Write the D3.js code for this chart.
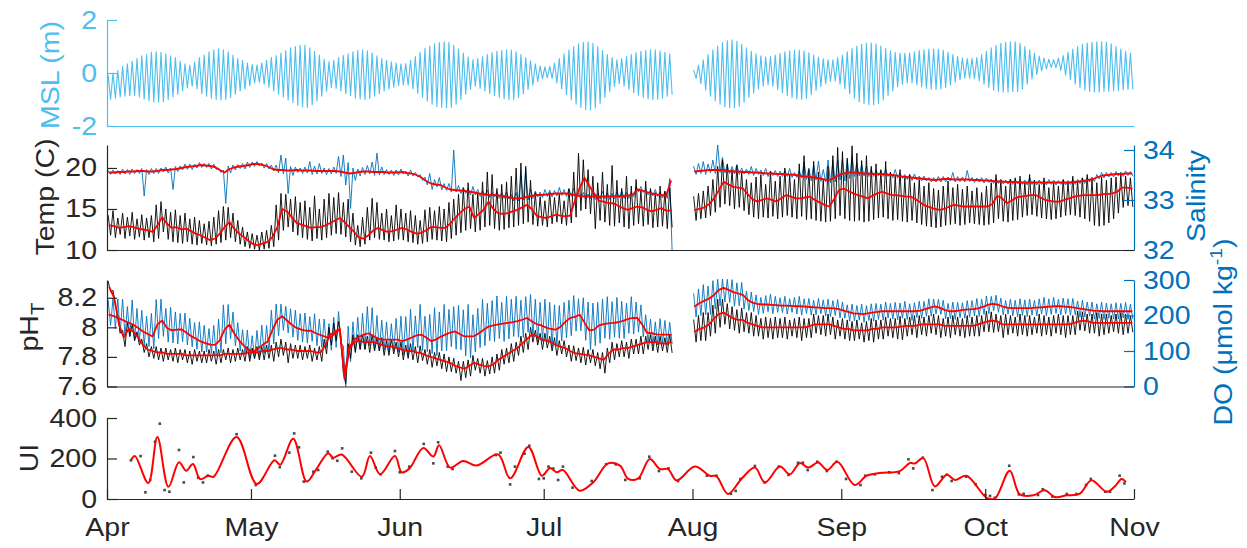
<!DOCTYPE html>
<html>
<head>
<meta charset="utf-8">
<script src="https://cdn.jsdelivr.net/npm/d3@7"></script>
<style>
html, body { margin: 0; padding: 0; background: #fff; }
svg { display: block; font-family: "Liberation Sans", Arial, Helvetica, sans-serif; }
</style>
</head>
<body>
<svg id="chart" width="1247" height="548"></svg>
<script>
// ---------------- data (one value per day, day 0 = 1 April; null = no record) ----------------
const monthLabels = ["Apr", "May", "Jun", "Jul", "Aug", "Sep", "Oct", "Nov"];
const monthStartDays = [0, 30, 61, 91, 122, 153, 183, 214];

const mslTicks = [-2, 0, 2];
const tempTicks = [10, 15, 20];
const salTicks = [32, 33, 34];
const phTicks = [7.6, 7.8, 8, 8.2];
const doTicks = [0, 100, 200, 300];
const uiTicks = [0, 200, 400];

// daily high / low water (m)
const tideHigh = [
-0.1,0.0,0.1,0.25,0.35,0.45,0.55,0.65,0.7,0.78,
0.8,0.78,0.72,0.65,0.58,0.45,0.35,0.3,0.42,0.58,
0.68,0.8,0.88,0.92,0.88,0.8,0.68,0.55,0.48,0.38,
0.32,0.3,0.38,0.48,0.58,0.66,0.75,0.85,0.95,1.0,
1.05,1.05,0.95,0.82,0.68,0.52,0.42,0.48,0.58,0.66,
0.72,0.8,0.86,0.88,0.84,0.75,0.65,0.55,0.48,0.42,
0.38,0.35,0.36,0.48,0.62,0.78,0.92,1.02,1.1,1.15,
1.18,1.16,1.05,0.9,0.75,0.6,0.5,0.55,0.62,0.7,
0.76,0.82,0.86,0.88,0.87,0.8,0.7,0.58,0.46,0.35,
0.26,0.23,0.25,0.38,0.55,0.72,0.88,1.0,1.1,1.16,
1.18,1.12,1.0,0.85,0.7,0.58,0.5,0.55,0.62,0.7,
0.76,0.82,0.86,0.88,0.88,0.84,0.78,0.72,null,null,
null,null,0.1,0.3,0.5,0.7,0.88,1.02,1.15,1.22,
1.25,1.2,1.08,0.95,0.82,0.72,0.65,0.6,0.62,0.68,
0.74,0.8,0.84,0.86,0.87,0.84,0.76,0.68,0.6,0.54,
0.5,0.5,0.58,0.68,0.8,0.92,1.02,1.08,1.12,1.13,
1.1,1.02,0.92,0.84,0.78,0.75,0.74,0.75,0.8,0.85,
0.88,0.9,0.9,0.9,0.86,0.78,0.7,0.62,0.56,0.54,
0.55,0.58,0.7,0.82,0.95,1.05,1.12,1.16,1.18,1.18,
1.12,1.0,0.88,0.75,0.64,0.56,0.52,0.5,0.56,0.66,
0.78,0.9,1.0,1.08,1.13,1.16,1.18,1.18,1.16,1.1,
1.0,0.9,0.82,0.75];
const tideLow = [
-1.0,-0.95,-0.9,-0.88,-0.86,-0.85,-0.9,-0.98,-1.05,-1.08,
-1.1,-1.08,-1.0,-0.9,-0.8,-0.68,-0.56,-0.5,-0.6,-0.78,
-0.88,-0.95,-1.0,-1.02,-1.0,-0.92,-0.8,-0.68,-0.6,-0.48,
-0.38,-0.35,-0.42,-0.55,-0.68,-0.8,-0.9,-1.02,-1.12,-1.22,
-1.28,-1.3,-1.2,-1.05,-0.88,-0.7,-0.55,-0.58,-0.68,-0.78,
-0.86,-0.94,-0.98,-1.0,-0.96,-0.88,-0.78,-0.68,-0.6,-0.54,
-0.48,-0.45,-0.46,-0.6,-0.76,-0.92,-1.06,-1.18,-1.26,-1.3,
-1.32,-1.3,-1.18,-1.0,-0.8,-0.62,-0.5,-0.58,-0.68,-0.78,
-0.86,-0.92,-0.97,-1.0,-1.0,-0.92,-0.78,-0.62,-0.46,-0.32,
-0.22,-0.18,-0.2,-0.38,-0.6,-0.82,-1.02,-1.18,-1.3,-1.38,
-1.4,-1.32,-1.15,-0.92,-0.7,-0.52,-0.4,-0.5,-0.62,-0.74,
-0.84,-0.92,-0.97,-1.0,-1.0,-0.95,-0.88,-0.8,null,null,
null,null,-0.2,-0.4,-0.65,-0.88,-1.05,-1.18,-1.27,-1.31,
-1.32,-1.25,-1.1,-0.92,-0.75,-0.6,-0.5,-0.45,-0.5,-0.62,
-0.74,-0.85,-0.93,-0.98,-1.0,-0.95,-0.82,-0.66,-0.52,-0.4,
-0.32,-0.3,-0.42,-0.6,-0.78,-0.95,-1.08,-1.16,-1.2,-1.2,
-1.15,-1.02,-0.85,-0.68,-0.52,-0.42,-0.38,-0.38,-0.45,-0.52,
-0.58,-0.62,-0.62,-0.6,-0.55,-0.45,-0.35,-0.26,-0.2,-0.2,
-0.22,-0.3,-0.42,-0.55,-0.65,-0.7,-0.72,-0.72,-0.7,-0.7,
-0.6,-0.42,-0.22,-0.05,0.08,0.16,0.2,0.2,0.1,-0.08,
-0.25,-0.42,-0.55,-0.64,-0.7,-0.72,-0.72,-0.7,-0.7,-0.68,
-0.66,-0.64,-0.62,-0.6];

// temperature (C): smoothed daily value, daily maximum, daily minimum
const tempMean = [
13.0,12.9,12.7,12.8,12.9,12.8,12.6,12.5,12.4,12.2,
13.0,14.0,13.2,12.7,12.8,12.5,12.6,12.3,12.0,11.8,
11.5,11.2,11.4,12.0,12.8,13.4,12.6,12.0,11.6,11.1,
10.7,10.6,10.8,11.0,11.6,12.8,15.0,14.7,14.0,13.3,
13.1,12.9,12.7,12.8,12.8,13.0,13.3,13.6,13.9,13.4,
12.8,12.2,11.5,11.4,11.8,12.4,12.7,12.4,12.2,12.3,
12.5,12.7,12.5,12.2,12.0,12.1,12.4,12.8,12.8,12.7,
12.7,13.2,13.9,14.5,15.0,15.3,13.9,14.4,14.9,15.9,
15.0,14.5,14.4,14.5,14.7,14.9,15.2,15.5,15.0,14.2,
14.0,13.9,14.1,14.3,14.2,14.1,14.2,16.0,17.6,18.8,
17.8,16.9,16.0,15.9,15.7,15.7,15.4,15.1,14.9,15.1,
15.3,15.2,14.9,14.7,14.9,15.1,14.8,14.8,null,null,
null,null,14.9,15.0,15.2,15.6,16.3,17.3,18.3,18.0,
17.7,17.6,17.5,16.8,16.2,15.9,16.1,16.3,16.1,15.9,
16.3,16.7,16.5,16.3,16.3,16.4,16.5,16.1,15.8,15.5,
15.3,16.2,17.3,17.5,17.2,16.9,16.7,16.5,16.3,16.6,
16.9,17.1,16.9,16.7,16.7,16.6,16.5,16.5,16.2,15.8,
15.4,15.2,15.0,14.9,15.0,15.3,15.5,15.4,15.3,15.3,
15.3,15.3,15.3,15.3,15.6,16.6,16.3,15.7,16.0,16.4,
16.5,16.6,16.7,16.7,16.4,16.1,16.0,15.9,15.9,16.1,
16.3,16.5,16.6,16.7,16.7,16.7,16.7,16.8,16.8,16.9,
17.1,17.6,17.6,17.5];
const tempMax = [
14.2,14.8,13.9,14.5,14.0,14.6,13.8,14.3,13.9,14.2,
15.5,15.9,15.0,14.6,14.9,14.2,14.5,13.8,14.0,13.6,
13.2,13.5,14.0,14.8,15.3,15.2,14.5,13.6,12.8,12.2,
12.0,11.8,12.2,12.4,13.0,15.5,16.9,16.8,16.2,16.5,
15.8,16.0,15.2,16.6,15.0,16.2,16.9,16.4,17.0,15.8,
16.2,14.5,13.0,14.0,15.2,16.3,15.8,14.5,15.0,14.2,
15.5,15.0,14.5,14.8,14.2,13.6,14.9,15.2,14.8,15.3,
15.0,15.8,16.2,16.8,17.5,18.2,16.8,17.0,18.3,19.5,
19.2,17.5,18.0,18.3,19.0,20.0,20.6,20.2,18.5,17.0,
16.5,16.0,17.0,16.4,16.8,16.0,17.5,19.5,21.8,21.0,
19.8,19.0,18.2,19.5,18.0,20.3,18.5,17.5,19.0,17.8,
18.6,17.2,18.4,17.5,17.0,17.8,17.2,17.6,null,null,
null,null,16.5,16.9,17.2,17.8,18.6,20.2,21.0,20.5,
19.8,20.3,19.5,18.6,18.2,18.9,19.2,18.0,19.6,18.4,
19.0,20.0,19.2,18.6,20.5,21.5,19.8,20.8,19.5,18.5,
20.2,21.5,22.5,22.0,21.2,22.7,21.8,20.9,21.5,20.2,
20.5,19.8,20.8,19.5,19.0,19.8,18.8,19.2,18.2,18.6,
17.8,18.2,17.5,17.3,17.8,18.4,17.6,18.0,17.4,17.8,
17.2,17.6,17.0,17.8,18.2,19.2,18.5,17.8,18.6,18.8,
19.0,18.2,19.2,18.5,18.0,18.8,17.6,18.2,17.8,18.6,
18.2,19.0,18.4,18.8,19.2,18.6,18.2,18.9,18.5,18.8,
18.9,19.2,19.0,18.8];
const tempMin = [
11.8,11.5,11.9,11.4,11.7,11.3,11.6,11.2,11.5,11.0,
11.4,12.2,11.3,11.0,10.9,10.8,11.0,10.7,10.6,10.8,
10.6,10.5,10.7,10.9,11.2,11.5,11.0,10.7,10.4,10.2,
10.1,10.0,10.1,10.2,10.4,11.2,12.4,12.8,12.2,11.8,
11.5,11.3,11.1,11.4,11.2,11.5,11.8,12.0,11.9,11.6,
11.0,10.6,10.4,10.7,11.2,11.5,11.3,11.2,11.0,11.1,
11.3,11.2,11.0,10.9,10.7,10.8,11.0,11.3,11.2,11.1,
11.0,11.4,11.8,12.1,12.4,12.6,12.2,12.4,12.8,13.0,
12.6,12.4,12.5,12.7,12.8,13.0,13.2,13.4,13.1,12.9,
13.0,12.8,13.2,13.4,13.2,13.0,13.3,14.0,14.8,15.0,
14.4,12.6,13.6,13.4,13.0,12.9,13.3,12.8,12.6,13.0,
13.2,12.9,13.1,12.7,12.8,12.9,12.6,12.8,null,null,
null,null,13.6,13.8,13.9,14.2,14.6,15.2,15.6,15.4,
15.0,15.2,14.8,14.3,14.0,13.8,14.0,13.9,14.1,13.8,
14.0,14.2,14.0,13.8,14.1,13.7,13.8,13.6,13.5,13.4,
13.5,13.8,14.2,13.8,13.6,13.5,13.6,13.4,13.5,13.7,
13.9,14.0,13.8,13.6,13.7,13.5,13.4,13.6,13.3,13.1,
12.9,12.8,12.7,12.8,13.0,13.1,13.2,13.0,13.1,13.3,
13.2,13.1,13.0,13.1,13.3,13.8,13.5,13.4,13.6,13.7,
14.0,14.2,14.3,14.1,13.9,13.8,13.7,13.8,14.0,14.2,
14.3,14.2,14.0,13.8,13.5,13.0,12.9,13.0,13.3,13.8,
14.5,15.2,15.4,15.3];

// salinity: smoothed daily value, and daily excursion above / below it
const salMean = [
33.55,33.55,33.56,33.56,33.57,33.57,33.58,33.58,33.57,33.57,
33.58,33.6,33.6,33.61,33.62,33.64,33.66,33.67,33.68,33.7,
33.69,33.68,33.66,33.6,33.55,33.62,33.65,33.67,33.68,33.7,
33.72,33.72,33.7,33.67,33.62,33.6,33.6,33.59,33.59,33.6,
33.59,33.59,33.59,33.58,33.58,33.58,33.58,33.58,33.57,33.55,
33.53,33.54,33.56,33.57,33.57,33.56,33.56,33.56,33.55,33.55,
33.55,33.56,33.54,33.53,33.5,33.45,33.38,33.33,33.31,33.3,
33.25,33.21,33.2,33.19,33.18,33.17,33.15,33.13,33.12,33.1,
33.1,33.09,33.08,33.06,33.04,33.03,33.04,33.06,33.08,33.1,
33.1,33.11,33.12,33.13,33.13,33.13,33.12,33.1,33.08,33.07,
33.07,33.07,33.07,33.07,33.07,33.07,33.08,33.08,33.09,33.1,
33.21,33.19,33.16,33.13,33.11,33.1,33.08,33.38,null,null,
null,null,33.57,33.58,33.59,33.6,33.6,33.6,33.6,33.58,
33.57,33.57,33.56,33.56,33.55,33.55,33.54,33.53,33.53,33.52,
33.52,33.51,33.51,33.5,33.48,33.47,33.46,33.45,33.43,33.41,
33.4,33.44,33.5,33.53,33.55,33.55,33.54,33.53,33.53,33.52,
33.52,33.52,33.51,33.5,33.49,33.47,33.46,33.45,33.44,33.43,
33.42,33.41,33.4,33.41,33.42,33.42,33.41,33.41,33.41,33.41,
33.4,33.4,33.39,33.39,33.38,33.37,33.37,33.36,33.36,33.36,
33.35,33.35,33.35,33.35,33.35,33.35,33.35,33.35,33.35,33.35,
33.35,33.36,33.37,33.38,33.4,33.42,33.46,33.49,33.5,33.51,
33.52,33.52,33.53,33.53];
const salAbove = [
.04,.05,.03,.06,.04,.05,.03,.05,.04,.06,
.05,.04,.06,.03,.05,.04,.06,.05,.04,.05,
.04,.05,.06,.04,.05,.06,.05,.04,.05,.06,
.04,.05,.04,.06,.08,.10,.30,.25,.08,.06,
.05,.07,.18,.10,.15,.06,.05,.08,.30,.35,
.22,.10,.06,.08,.12,.20,.38,.10,.06,.05,
.05,.06,.04,.07,.05,.06,.08,.20,.10,.15,
.08,.12,.80,.10,.08,.06,.12,.08,.06,.10,
.05,.08,.06,.10,.07,.12,.45,.55,.15,.08,
.06,.10,.08,.06,.12,.08,.10,.14,.06,.08,
.05,.08,.06,.10,.07,.06,.08,.10,.06,.05,
.06,.08,.05,.07,.10,.06,.08,.05,null,null,
null,null,.10,.15,.18,.12,.20,.50,.25,.12,
.10,.14,.08,.06,.12,.08,.06,.10,.05,.07,
.06,.08,.12,.05,.10,.30,.18,.25,.35,.20,
.40,.35,.30,.28,.25,.32,.20,.18,.15,.10,
.08,.06,.10,.05,.12,.07,.05,.06,.08,.05,
.06,.04,.05,.06,.05,.04,.14,.06,.05,.18,
.05,.04,.06,.05,.04,.06,.05,.04,.06,.05,
.04,.05,.10,.04,.05,.04,.06,.05,.04,.05,
.04,.05,.04,.06,.05,.04,.05,.06,.05,.04,
.05,.04,.05,.04];
const salBelow = [
.04,.03,.05,.04,.06,.04,.05,.50,.06,.04,
.05,.04,.06,.40,.05,.04,.05,.06,.04,.05,
.04,.06,.05,.05,.62,.08,.05,.04,.06,.05,
.05,.04,.06,.05,.04,.06,.08,.46,.10,.05,
.06,.05,.08,.06,.05,.07,.06,.05,.10,.25,
.70,.15,.08,.06,.05,.07,.06,.05,.04,.06,
.05,.04,.06,.05,.04,.06,.08,.12,.05,.10,
.06,.05,.04,.06,.05,.07,.05,.06,.04,.05,
.04,.06,.05,.04,.06,.05,.04,.06,.05,.04,
.05,.04,.06,.05,.04,.06,.05,.04,.06,.05,
.04,.06,.05,.04,.06,.05,.04,.05,.06,.04,
.05,.04,.06,.05,.04,.06,.05,1.38,null,null,
null,null,.06,.05,.08,.06,.07,.05,.06,.05,
.05,.06,.04,.05,.06,.04,.05,.06,.04,.05,
.05,.04,.06,.05,.04,.06,.08,.05,.06,.05,
.06,.08,.10,.15,.12,.08,.06,.05,.06,.05,
.04,.05,.04,.06,.05,.04,.05,.06,.04,.05,
.04,.05,.04,.05,.06,.04,.05,.04,.05,.04,
.05,.04,.05,.04,.05,.04,.05,.04,.05,.04,
.04,.05,.04,.05,.04,.05,.04,.05,.04,.05,
.04,.05,.04,.05,.04,.05,.04,.05,.04,.05,
.04,.05,.04,.05];

// pH (total scale): smoothed daily value, and daily excursion above / below it
const phMean = [
8.27,8.2,8.02,7.93,7.99,7.97,7.93,7.88,7.85,7.84,
7.83,7.83,7.82,7.82,7.82,7.82,7.81,7.81,7.81,7.81,
7.81,7.81,7.81,7.81,7.82,7.82,7.82,7.82,7.82,7.83,
7.83,7.83,7.84,7.84,7.85,7.86,7.86,7.85,7.85,7.84,
7.84,7.84,7.84,7.83,7.83,7.88,7.95,7.97,7.99,7.65,
7.85,7.9,7.91,7.9,7.9,7.9,7.89,7.88,7.87,7.87,
7.86,7.85,7.84,7.84,7.83,7.825,7.81,7.8,7.79,7.78,
7.77,7.76,7.74,7.73,7.72,7.74,7.76,7.75,7.74,7.735,
7.75,7.78,7.8,7.82,7.84,7.86,7.89,7.92,7.95,7.94,
7.92,7.91,7.9,7.88,7.87,7.86,7.84,7.825,7.82,7.815,
7.81,7.8,7.79,7.78,7.82,7.85,7.85,7.86,7.86,7.87,
7.88,7.89,7.9,7.9,7.9,7.89,7.89,7.9,null,null,
null,null,7.97,7.99,8.0,8.02,8.06,8.09,8.1,8.08,
8.06,8.05,8.05,8.03,8.02,8.01,8.0,8.0,8.0,8.0,
8.0,8.0,8.0,8.0,8.0,8.0,8.01,8.02,8.02,8.02,
8.02,8.01,8.0,7.99,7.99,7.98,7.98,7.98,7.98,7.99,
7.99,8.0,8.0,8.0,8.0,8.005,8.01,8.01,8.01,8.02,
8.02,8.02,8.02,8.02,8.01,8.01,8.01,8.01,8.01,8.01,
8.01,8.02,8.03,8.04,8.045,8.04,8.02,8.02,8.02,8.02,
8.02,8.02,8.02,8.02,8.02,8.02,8.02,8.02,8.02,8.02,
8.02,8.03,8.04,8.045,8.04,8.03,8.03,8.03,8.03,8.03,
8.03,8.03,8.03,8.03];
const phAbove = [
.04,.05,.06,.05,.04,.05,.04,.04,.04,.03,
.04,.03,.04,.03,.04,.03,.04,.03,.04,.03,
.03,.04,.03,.04,.03,.04,.03,.04,.03,.04,
.03,.04,.03,.04,.03,.04,.06,.05,.04,.04,
.04,.03,.04,.03,.04,.04,.05,.06,.05,.04,
.04,.05,.04,.05,.04,.05,.04,.05,.04,.05,
.04,.05,.04,.05,.04,.05,.04,.05,.04,.05,
.05,.04,.05,.04,.05,.04,.05,.04,.05,.04,
.05,.04,.05,.04,.05,.04,.05,.04,.05,.04,
.04,.05,.04,.05,.04,.05,.04,.05,.04,.05,
.04,.05,.04,.05,.04,.05,.04,.05,.04,.05,
.04,.05,.04,.05,.04,.05,.04,.05,null,null,
null,null,.08,.09,.10,.08,.09,.10,.09,.08,
.08,.07,.08,.07,.08,.07,.06,.07,.06,.07,
.06,.07,.05,.06,.07,.06,.05,.07,.06,.06,
.07,.06,.05,.07,.06,.06,.07,.05,.06,.07,
.06,.05,.07,.06,.06,.07,.05,.06,.07,.06,
.05,.06,.07,.06,.05,.06,.07,.06,.05,.07,
.06,.06,.05,.07,.06,.05,.06,.07,.06,.05,
.07,.06,.06,.05,.07,.06,.05,.06,.07,.06,
.06,.05,.07,.06,.05,.06,.07,.06,.06,.05,
.06,.07,.06,.05];
const phBelow = [
.03,.05,.06,.06,.05,.06,.05,.05,.05,.05,
.05,.06,.04,.05,.06,.04,.05,.06,.04,.05,
.05,.04,.06,.05,.04,.06,.05,.04,.05,.06,
.04,.05,.06,.05,.08,.06,.05,.09,.06,.05,
.06,.05,.07,.05,.06,.06,.07,.06,.06,.03,
.06,.07,.06,.05,.07,.06,.05,.07,.06,.05,
.06,.07,.05,.06,.07,.05,.06,.07,.05,.06,
.07,.06,.05,.09,.06,.07,.05,.06,.07,.05,
.06,.07,.05,.06,.07,.05,.06,.07,.05,.06,
.07,.05,.06,.07,.05,.06,.07,.05,.06,.07,
.05,.06,.07,.09,.06,.07,.05,.06,.07,.05,
.06,.07,.05,.06,.07,.05,.06,.07,null,null,
null,null,.07,.08,.09,.08,.10,.09,.08,.09,
.08,.09,.08,.07,.08,.07,.08,.07,.08,.07,
.07,.08,.06,.07,.09,.07,.08,.06,.07,.08,
.07,.09,.06,.07,.08,.07,.06,.08,.07,.09,
.07,.08,.06,.07,.08,.09,.07,.06,.08,.07,
.08,.06,.07,.09,.07,.08,.06,.07,.08,.07,
.07,.08,.06,.07,.08,.07,.09,.07,.06,.08,
.07,.08,.07,.06,.08,.07,.08,.06,.07,.09,
.07,.08,.06,.07,.08,.07,.09,.08,.07,.06,
.07,.08,.07,.06];

// dissolved oxygen (umol/kg): smoothed daily value, and daily excursion above / below it
const doMean = [
202,198,192,186,180,174,165,155,148,141,
175,186,165,158,160,161,152,142,135,127,
122,118,117,130,160,174,150,130,115,104,
98,108,118,127,160,188,198,186,174,165,
160,157,157,150,145,140,137,150,161,35,
110,132,140,146,150,142,135,132,132,132,
132,128,132,138,144,146,138,128,132,140,
146,152,155,148,141,141,142,150,160,169,
172,175,177,179,181,184,188,193,184,176,
172,166,162,160,168,182,193,196,202,180,
158,160,172,176,178,179,181,185,190,193,
193,175,152,150,147,146,146,146,null,null,
null,null,226,235,242,248,258,272,278,272,
266,262,258,244,236,233,231,231,230,229,
228,228,227,226,226,225,224,223,222,221,
221,220,218,214,210,206,205,204,206,208,
210,212,212,212,212,212,212,212,212,214,
218,222,226,222,216,212,212,214,216,217,
218,220,224,230,233,231,226,222,221,221,
221,221,221,222,223,224,225,226,226,225,
224,222,220,218,216,214,213,212,212,212,
212,212,212,212];
const doAbove = [
40,50,55,60,45,70,55,60,50,65,
70,60,55,65,50,45,55,50,45,55,
50,45,55,60,70,57,60,50,45,55,
45,50,55,45,55,44,34,40,45,50,
45,50,40,55,45,50,40,45,50,80,
60,50,55,60,75,80,65,55,50,45,
60,70,65,80,55,85,60,75,90,70,
85,65,70,80,75,90,60,70,85,65,
70,80,60,75,65,70,55,60,75,70,
65,80,75,70,60,55,50,60,45,70,
80,75,65,70,75,60,70,55,45,60,
45,55,50,40,35,45,40,35,null,null,
null,null,35,40,45,35,40,30,25,30,
35,30,35,25,30,25,20,25,30,25,
22,26,20,25,28,22,24,20,26,23,
25,22,27,24,20,26,23,28,22,25,
24,20,26,22,25,23,28,21,24,26,
22,25,20,24,27,22,26,23,20,25,
24,28,22,25,21,26,23,20,25,22,
26,23,25,21,24,27,22,25,20,24,
23,26,21,25,22,24,20,26,23,21,
24,22,25,20];
const doBelow = [
30,35,40,45,40,45,40,40,35,35,
40,45,40,35,40,35,35,30,30,30,
25,25,30,35,40,40,35,30,25,25,
20,25,25,30,40,45,40,35,35,35,
35,35,30,35,35,30,35,40,40,35,
40,35,35,40,35,40,35,30,35,30,
35,40,45,40,35,45,40,35,45,40,
45,40,50,45,55,60,45,40,45,40,
45,40,50,45,40,45,50,40,45,50,
45,40,50,45,40,45,50,40,45,50,
55,45,50,40,45,40,45,50,40,45,
40,35,30,35,30,25,30,25,null,null,
null,null,30,35,40,45,40,45,40,35,
40,35,40,30,25,30,25,20,25,20,
20,24,18,22,25,19,23,21,17,22,
24,20,25,22,26,21,18,23,20,24,
21,25,19,22,24,20,23,26,18,22,
20,24,22,19,25,21,23,20,24,22,
19,23,21,25,20,22,24,18,22,25,
21,24,20,23,19,25,22,20,24,21,
23,20,25,22,18,24,21,23,20,22,
22,19,23,21];

// upwelling index: daily values and the smoothed curve
const uiDays = [5,7,8,9,10,11,12,13,15,16,18,19,20,21,27,31,35,36,38,39,
40,41,43,44,46,47,48,49,51,53,55,56,57,60,61,63,66,68,69,71,
72,81,82,84,85,87,88,90,91,92,93,94,95,97,101,104,106,108,111,113,
115,117,119,125,127,130,131,132,135,137,140,142,144,145,146,148,150,152,154,157,
158,160,163,165,167,168,170,172,174,175,176,179,181,183,184,185,188,190,191,194,
195,197,200,202,204,205,208,209,211,212];
const uiValues = [191,212,33,94,283,372,44,36,242,82,207,105,82,115,320,69,214,157,229,324,
255,86,135,143,234,201,189,250,135,102,229,155,122,237,132,160,272,176,280,160,
148,217,229,72,160,224,263,99,102,160,150,94,160,56,89,171,171,94,102,209,
138,151,89,115,115,26,40,99,163,82,160,119,179,179,143,184,138,184,99,69,
115,122,132,128,196,151,204,44,110,120,89,110,72,20,15,6,164,23,26,20,
48,12,25,25,69,99,36,36,115,77];
const uiSmoothDays = [5,5.8,8.6,10.5,12.8,15,16.5,17.9,19.4,21.1,22.2,27,31.2,34.9,36.1,38.8,41.6,43.3,46.1,47.1,
48.9,53.1,54.8,56.9,60,61.4,63,65.9,68,69.2,71.5,74.2,77,81.5,84,87.8,90.6,92.3,93.7,95,
98.5,101.3,104.4,106.9,108.6,110.7,113.1,115.2,116.9,118.7,122.5,125.6,127,129.4,132.2,135,137.1,140.2,142.3,144.4,
146.1,148.2,150.1,152.2,155.8,158.3,161,165.2,167.3,168.3,170.1,172.5,175,176.7,179.1,183.3,185,188.1,190.2,193,
195.4,197.5,200,202.7,205.1,208.3,210,211.4,212.3];
const uiSmooth = [191,212,79,306,60,181,140,173,98,115,110,306,74,191,169,297,86,135,226,204,
220,110,212,122,212,132,150,252,210,266,155,188,165,220,102,257,115,153,132,143,
41,82,176,165,99,102,198,148,148,92,160,115,112,25,99,155,82,160,122,178,
155,180,143,184,69,115,128,138,178,175,202,62,120,94,115,6,2,140,23,18,
43,10,18,26,92,36,62,99,84];

// ---------------- drawing ----------------
const COL_MSL = "#4DBEEE", COL_BLUE = "#0072BD", COL_AX = "#262626", COL_RED = "#FF0000";
const FS = 25, STRETCH = 1.14;

const svg = d3.select("#chart");
const x = d3.scaleLinear().domain([0, 214]).range([107, 1134]);

const yMsl  = d3.scaleLinear().domain([-2, 2]).range([126, 20]);
const yTemp = d3.scaleLinear().domain([10, 22.8]).range([250, 145]);
const ySal  = d3.scaleLinear().domain([32, 34.1]).range([250, 145]);
const yPh   = d3.scaleLinear().domain([7.6, 8.32]).range([386.5, 280]);
const yDo   = d3.scaleLinear().domain([0, 300]).range([386.5, 280]);
const yUi   = d3.scaleLinear().domain([0, 400]).range([499, 418]);

const defs = svg.append("defs");
function clipFor(id, y) {
  const r = y.range();
  defs.append("clipPath").attr("id", id).append("rect")
    .attr("x", x(0)).attr("y", Math.min(...r) - 1)
    .attr("width", x(214) - x(0)).attr("height", Math.abs(r[0] - r[1]) + 2);
  return svg.append("g").attr("clip-path", `url(#${id})`);
}

// one up-stroke and one down-stroke per day between the daily extremes
function dailySwing(hi, lo) {
  const pts = [];
  hi.forEach((h, d) => {
    if (h == null || lo[d] == null) { pts.push(null); return; }
    pts.push([d + 0.25, h], [d + 0.75, lo[d]]);
  });
  return pts;
}
function dailyPoints(v) { return v.map((m, d) => m == null ? null : [d + 0.5, m]); }
function plus(m, off) { return m.map((v, i) => v == null ? null : v + off[i]); }
function minus(m, off) { return m.map((v, i) => v == null ? null : v - off[i]); }

function path(g, pts, y, color, width) {
  const line = d3.line().defined(p => p != null).x(p => x(p[0])).y(p => y(p[1]));
  g.append("path").attr("d", line(pts)).attr("fill", "none")
    .attr("stroke", color).attr("stroke-width", width)
    .attr("stroke-linejoin", "round").attr("stroke-linecap", "round");
}

function styleAxis(g, color) {
  g.attr("font-size", FS).attr("font-family", null).attr("color", color);
  g.select(".domain").attr("stroke-width", 1.2);
  g.selectAll(".tick line").attr("stroke-width", 1.2);
  g.selectAll("text").each(function () {
    const t = d3.select(this);
    const tx = +(t.attr("x") || 0);
    t.attr("x", tx / STRETCH).attr("transform", `scale(${STRETCH},1)`);
  });
}

function leftAxis(y, ticks, color, fmt) {
  const g = svg.append("g").attr("transform", `translate(${x(0)},0)`)
    .call(d3.axisLeft(y).tickValues(ticks).tickSize(-10).tickSizeOuter(0).tickPadding(10)
      .tickFormat(fmt || (d => String(d))));
  styleAxis(g, color);
  return g;
}
function rightAxis(y, ticks, color) {
  const g = svg.append("g").attr("transform", `translate(${x(214)},0)`)
    .call(d3.axisRight(y).tickValues(ticks).tickSize(-10).tickSizeOuter(0).tickPadding(9)
      .tickFormat(d => String(d)));
  styleAxis(g, color);
  return g;
}
function baseLine(y0, color) {
  const g = svg.append("g").attr("transform", `translate(0,${y0})`)
    .call(d3.axisBottom(x).tickValues([]).tickSizeOuter(0));
  styleAxis(g, color);
}

function yLabel(parts, cx, cy, color) {
  const t = svg.append("text")
    .attr("transform", `translate(${cx},${cy}) rotate(-90) scale(${STRETCH},1)`)
    .attr("text-anchor", "middle").attr("font-size", FS).attr("fill", color);
  parts.forEach(p => {
    const s = t.append("tspan").text(p.text);
    if (p.sub) s.attr("font-size", 18).attr("dy", 6);
    if (p.sup) s.attr("font-size", 17).attr("dy", -10);
    if (p.back) s.attr("dy", p.back);
  });
}

// ---- panel 1: sea level ----
{
  const g = clipFor("clipMsl", yMsl);
  path(g, dailySwing(tideHigh, tideLow), yMsl, COL_MSL, 1.1);
  leftAxis(yMsl, mslTicks, COL_MSL);
  baseLine(126, COL_MSL);
  yLabel([{ text: "MSL (m)" }], 59, 75, COL_MSL);
}

// ---- panel 2: temperature & salinity ----
{
  const g = clipFor("clipTemp", yTemp);
  path(g, dailySwing(plus(salMean, salAbove), minus(salMean, salBelow)), ySal, COL_BLUE, 0.9);
  path(g, dailySwing(tempMax, tempMin), yTemp, "#000", 0.9);
  path(g, dailyPoints(tempMean), yTemp, COL_RED, 1.8);
  path(g, dailyPoints(salMean), ySal, COL_RED, 1.8);
  leftAxis(yTemp, tempTicks, COL_AX);
  rightAxis(ySal, salTicks, COL_BLUE);
  baseLine(250, COL_AX);
  yLabel([{ text: "Temp (C)" }], 54, 197, COL_AX);
  yLabel([{ text: "Salinity" }], 1205, 196, COL_BLUE);
}

// ---- panel 3: pH & dissolved oxygen ----
{
  const g = clipFor("clipPh", yPh);
  path(g, dailySwing(plus(doMean, doAbove), minus(doMean, doBelow)), yDo, COL_BLUE, 0.9);
  path(g, dailySwing(plus(phMean, phAbove), minus(phMean, phBelow)), yPh, "#000", 0.9);
  path(g, dailyPoints(phMean), yPh, COL_RED, 1.8);
  path(g, dailyPoints(doMean), yDo, COL_RED, 1.8);
  leftAxis(yPh, phTicks, COL_AX);
  rightAxis(yDo, doTicks, COL_BLUE);
  baseLine(386.5, COL_AX);
  yLabel([{ text: "pH" }, { text: "T", sub: true }], 38, 327, COL_AX);
  yLabel([{ text: "DO (\u03bcmol kg" }, { text: "-1", sup: true }, { text: ")", back: 10 }], 1232, 332, COL_BLUE);
}

// ---- panel 4: upwelling index ----
{
  const g = clipFor("clipUi", yUi);
  g.selectAll("rect.dot").data(uiDays).enter().append("rect")
    .attr("x", (d) => x(d) - 1.3).attr("y", (d, i) => yUi(uiValues[i]) - 1.3)
    .attr("width", 2.6).attr("height", 2.6).attr("fill", "#4a4a4a");
  const smooth = d3.line().curve(d3.curveCatmullRom.alpha(0.5))
    .x((d) => x(d)).y((d, i) => yUi(uiSmooth[i]));
  g.append("path").attr("d", smooth(uiSmoothDays)).attr("fill", "none")
    .attr("stroke", COL_RED).attr("stroke-width", 2);
  leftAxis(yUi, uiTicks, COL_AX);
  const gx = svg.append("g").attr("transform", `translate(0,${yUi(0)})`)
    .call(d3.axisBottom(x).tickValues(monthStartDays).tickSize(-10).tickSizeOuter(0)
      .tickPadding(19).tickFormat((d, i) => monthLabels[i]));
  styleAxis(gx, COL_AX);
  yLabel([{ text: "UI" }], 38, 458, COL_AX);
}
</script>
</body>
</html>
